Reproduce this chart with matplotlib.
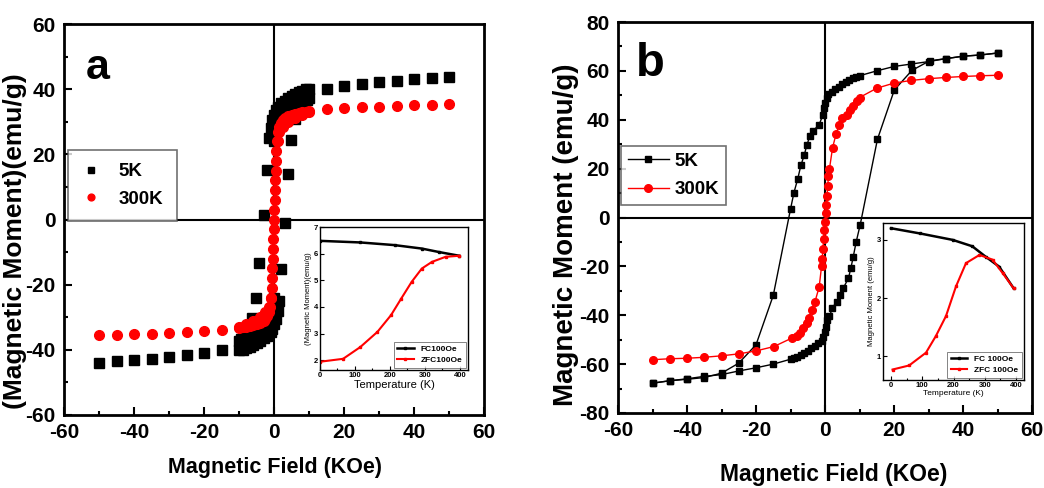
import numpy as np
import matplotlib
matplotlib.use("Agg")
from matplotlib import pyplot as plt
from matplotlib.ticker import MultipleLocator

plt.rcParams['font.family'] = ['Liberation Sans', 'DejaVu Sans']
plt.rcParams['font.weight'] = 'bold'
plt.rcParams['axes.unicode_minus'] = False

# ---- panel a : 5K (squares) ----
a5_sparse_H = [-50, -45, -40, -35, -30, -25, -20, -15, 15, 20, 25, 30, 35, 40, 45, 50]
a5_sparse_M = [-44.0, -43.5, -43.0, -42.7, -42.1, -41.7, -41.1, -40.1,
               39.9, 41.0, 41.7, 42.3, 42.6, 43.0, 43.3, 43.6]
a5_outer_H = [-1.5, -1, -0.5, 0, 0.5, 1, 2, 3, 4, 5, 6, 7, 8, 9, 10]
a5_outer_M = [25, 28, 30.5, 32, 33.5, 34.5, 35.7, 36.5, 37.3, 38, 38.6, 39.1, 39.5, 39.9, 40.2]
a5_inner_H = [0, 0.3, 0.7, 1.5, 2.5, 3.5, 4.5, 5.5, 6.5, 7.5, 8.5, 9.5, 10]
a5_inner_M = [24, 27, 29, 30, 31.5, 32.5, 33.5, 34.3, 35, 35.6, 36.2, 36.8, 37.2]
a5_loose_H = [-2.1, -3.0, 4.0, 4.9, 6.0, 3.0, 2.0, -4.3, -5.2, -6.2]
a5_loose_M = [15.3, 1.3, 14.1, 24.5, 30.7, -1.0, -15.3, -13.5, -24.2, -30.2]

# ---- panel a : 300K (circles) ----
a300_sparse_H = [-50, -45, -40, -35, -30, -25, -20, -15, 15, 20, 25, 30, 35, 40, 45, 50]
a300_sparse_M = [-35.5, -35.3, -35.2, -35.0, -34.8, -34.5, -34.2, -33.8,
                 33.8, 34.1, 34.4, 34.6, 34.8, 35.1, 35.1, 35.6]
a300_up_H = [10, 9, 8, 7, 6, 5, 4, 3, 2.5, 2, 1.5, 1.2]
a300_up_M = [33.3, 33.1, 33, 32.8, 32.5, 32.2, 31.8, 31.2, 30.5, 29.5, 28.5, 27]
a300_up2_H = [1, 1.5, 2.5, 4, 6, 8, 10]
a300_up2_M = [24, 27, 28.5, 30, 31.3, 32.2, 33]
a300_col_H = [0.9, 0.7, 0.6, 0.5, 0.4, 0.3, 0.2, 0.1, 0, -0.1, -0.2, -0.3, -0.4, -0.5, -0.6, -0.7, -0.9]
a300_col_M = [24, 21, 18, 15, 12, 9, 6, 3, 0, -3, -6, -9, -12, -15, -18, -21, -24]
a300_dn_H = [-1.2, -1.5, -2, -2.5, -3, -4, -5, -6, -7, -8, -9, -10]
a300_dn_M = [-27, -28.5, -29.5, -30.5, -31.2, -31.8, -32.2, -32.5, -32.8, -33, -33.1, -33.3]
a300_dn2_H = [-1, -1.5, -2.5, -4, -6, -8, -10]
a300_dn2_M = [-24, -27, -28.5, -30, -31.3, -32.2, -33]

# ---- panel a inset ----
a_T_fc = [0, 115, 213, 291, 340, 398]
a_M_fc = [6.48, 6.42, 6.32, 6.19, 6.06, 5.92]
a_T_zfc = [0, 66, 115, 164, 203, 232, 262, 291, 320, 359, 398]
a_M_zfc = [1.94, 2.05, 2.49, 3.06, 3.69, 4.31, 4.94, 5.44, 5.69, 5.88, 5.92]

# ---- panel b : 5K (line + squares) ----
b5_down_H = [50, 45, 40, 35, 30, 25, 20, 15, 10, 9, 8, 7, 6, 5, 4, 3, 2, 1, 0.5, 0, -0.3, -0.6,
             -1.7, -3.4, -4.4, -5.3, -6, -7, -7.9, -9, -10, -15, -20, -25, -30, -35, -40, -45, -50]
b5_down_M = [67.3, 66.5, 66, 65, 63.8, 62.8, 61.8, 60, 58, 57.5, 57, 56.3, 55.5, 54.5, 53.5, 52.5,
             51.5, 50.5, 49, 47, 45, 42, 38, 35.5, 33.2, 29.5, 25.6, 21.3, 15.8, 10.2, 3.4,
             -31.9, -52.1, -59.6, -63.7, -65.5, -66.2, -66.8, -67.8]
b5_up_H = [-50, -45, -40, -35, -30, -25, -20, -15, -10, -9, -8, -7, -6, -5, -4, -3, -2, -1, -0.5, 0,
           0.3, 0.6, 1.3, 2.1, 3.4, 4.4, 5.3, 6.8, 7.5, 8.2, 9, 10.2, 15.2, 20.1, 25.2, 30.3, 35, 40, 45, 50]
b5_up_M = [-67.8, -66.8, -66, -65, -64.3, -62.8, -61.5, -60, -58, -57.5, -57, -56.3, -55.5, -54.5,
           -53.5, -52.5, -51.5, -50.5, -49, -47, -45, -42, -40.5, -37.1, -34.4, -31.6, -28.9,
           -24.8, -20.7, -16, -10.2, -3, 32, 52.2, 60.2, 64.1, 65, 66, 66.5, 67.3]

# ---- panel b : 300K (line + circles) ----
b300_H = [50, 45, 40, 35, 30, 25, 20, 15, 10, 9.2, 8.2, 7.3, 6.3, 4.8, 4.1, 3.2, 2.2,
          1.3, 1.0, 0.8, 0.6, 0.4, 0.2, 0.0, -0.2, -0.4, -0.6, -0.8, -1.0,
          -1.7, -2.9, -3.9, -4.5, -5.3, -6.3, -7.3, -8.2, -9.7, -14.8, -20, -25, -30, -35, -40, -45, -50]
b300_M = [58.2, 58, 57.7, 57.3, 56.8, 56.1, 55, 52.9, 49.1, 47.5, 45.7, 44, 42, 40.6, 37.9, 34.1, 28.6,
          20, 17, 13, 9, 5, 2, -2, -5, -9, -13, -17, -20,
          -28.5, -34.4, -37.8, -41.2, -43.2, -45.3, -47.3, -48.4, -49.4, -52.8, -54.6, -55.8,
          -56.6, -57.2, -57.6, -57.8, -58.2]

# ---- panel b inset ----
b_T_fc = [0, 93, 197, 260, 303, 346, 392]
b_M_fc = [3.2, 3.11, 3.0, 2.89, 2.71, 2.54, 2.17]
b_T_zfc = [5, 58, 112, 144, 176, 208, 240, 283, 325, 357, 392]
b_M_zfc = [0.77, 0.84, 1.06, 1.35, 1.69, 2.2, 2.6, 2.74, 2.66, 2.43, 2.17]

W, H = 1044, 488


def px_axes(fig, x0, y0, x1, y1):
    # pixel box (top-left origin) -> figure axes
    return fig.add_axes([x0 / W, 1 - y1 / H, (x1 - x0) / W, (y1 - y0) / H])


def style_main(ax, ylim, ymajor):
    ax.set_xlim(-60, 60)
    ax.set_ylim(*ylim)
    ax.xaxis.set_major_locator(MultipleLocator(20))
    ax.xaxis.set_minor_locator(MultipleLocator(10))
    ax.yaxis.set_major_locator(MultipleLocator(ymajor))
    ax.yaxis.set_minor_locator(MultipleLocator(10))
    ax.tick_params(which='both', direction='in', top=False, right=False, width=1.5, labelsize=15)
    ax.tick_params(which='major', length=6, pad=6)
    ax.tick_params(which='minor', length=3)
    for s in ax.spines.values():
        s.set_linewidth(2)
    ax.axhline(0, color='k', lw=1.5, zorder=1)
    ax.axvline(0, color='k', lw=1.5, zorder=1)


def style_inset(ax, xlim, ylim, ylabel, xsize):
    ax.set_xlim(*xlim)
    ax.set_ylim(*ylim)
    ax.xaxis.set_major_locator(MultipleLocator(100))
    ax.xaxis.set_minor_locator(MultipleLocator(50))
    ax.yaxis.set_major_locator(MultipleLocator(1))
    ax.tick_params(which='both', direction='in', top=False, right=False, labelsize=5.5, pad=1.5,
                   width=0.8)
    ax.tick_params(which='major', length=3)
    ax.tick_params(which='minor', length=1.5)
    for s in ax.spines.values():
        s.set_linewidth(1)
    ax.set_xlabel("Temperature (K)", fontsize=xsize, labelpad=1)
    ax.set_ylabel(ylabel, fontsize=5.5, labelpad=1)


def main():
    fig = plt.figure(figsize=(W / 100, H / 100), dpi=100)

    # ---------- panel a ----------
    ax = px_axes(fig, 64, 24, 484, 415)
    style_main(ax, (-60, 60), 20)
    sq = dict(marker='s', color='k', ms=6.5, ls='none', zorder=3)
    ci = dict(marker='o', color='red', ms=7, ls='none', zorder=4)
    ax.plot(a5_sparse_H, a5_sparse_M, label="5K", **sq)
    for h, m in [(a5_outer_H, a5_outer_M), (a5_inner_H, a5_inner_M)]:
        ax.plot(h, m, **sq)
        ax.plot(-np.array(h), -np.array(m), **sq)
    ax.plot(a5_loose_H, a5_loose_M, **sq)
    ax.plot(a300_sparse_H, a300_sparse_M, label="300K", **ci)
    for h, m in [(a300_up_H, a300_up_M), (a300_up2_H, a300_up2_M), (a300_col_H, a300_col_M),
                 (a300_dn_H, a300_dn_M), (a300_dn2_H, a300_dn2_M)]:
        ax.plot(h, m, **ci)
    leg = ax.legend(loc='upper left', bbox_to_anchor=(0.01, 0.678), borderaxespad=0,
                    fancybox=False, edgecolor='0.3', fontsize=13.5, handlelength=1.0,
                    handletextpad=1.0, borderpad=0.7, labelspacing=0.55, markerscale=0.7)
    leg.get_frame().set_linewidth(1.2)
    ax.text(98 / W, 1 - 68 / H, "a", transform=fig.transFigure, fontsize=31,
            ha='center', va='center')
    fig.text(274.5 / W, 1 - 467 / H, "Magnetic Field (KOe)", ha='center', va='center', fontsize=15.5)
    fig.text(15 / W, 1 - 241.5 / H, "(Magnetic Moment)(emu/g)", ha='center', va='center',
             rotation=90, fontsize=19)

    ins = px_axes(fig, 320, 227, 468, 370)
    ins.plot(a_T_fc, a_M_fc, '-', color='k', lw=1.8, marker='s', ms=1.5, label="FC100Oe")
    ins.plot(a_T_zfc, a_M_zfc, '-', color='red', lw=1.5, marker='s', ms=1.5, label="ZFC100Oe")
    style_inset(ins, (0, 423), (1.63, 7), "(Magnetic Moment)(emu/g)", 8)
    l2 = ins.legend(loc='lower right', fontsize=6, fancybox=False, edgecolor='0.3',
                    handlelength=2, borderaxespad=0.3, labelspacing=0.4)
    l2.get_frame().set_linewidth(0.6)

    # ---------- panel b ----------
    bx = px_axes(fig, 618, 22, 1032, 413)
    style_main(bx, (-80, 80), 20)
    bx.plot(b5_down_H, b5_down_M, '-s', color='k', lw=1, ms=5, zorder=3, label="5K")
    bx.plot(b5_up_H, b5_up_M, '-s', color='k', lw=1, ms=5, zorder=3)
    bx.plot(b300_H, b300_M, '-o', color='red', lw=1, ms=5.5, zorder=4, label="300K")
    leg = bx.legend(loc='upper left', bbox_to_anchor=(0.008, 0.682), borderaxespad=0,
                    fancybox=False, edgecolor='0.3', fontsize=13.5, handlelength=2.2,
                    handletextpad=0.3, borderpad=0.35, labelspacing=0.6)
    leg.get_frame().set_linewidth(1.2)
    bx.text(650 / W, 1 - 64 / H, "b", transform=fig.transFigure, fontsize=34,
            ha='center', va='center')
    fig.text(834 / W, 1 - 475 / H, "Magnetic Field (KOe)", ha='center', va='center', fontsize=16.5)
    fig.text(566 / W, 1 - 235 / H, "Magnetic Moment (emu/g)", ha='center', va='center',
             rotation=90, fontsize=20)

    ins = px_axes(fig, 883, 223, 1024, 380)
    ins.plot(b_T_fc, b_M_fc, '-', color='k', lw=1.8, marker='s', ms=1.5, label="FC 100Oe")
    ins.plot(b_T_zfc, b_M_zfc, '-', color='red', lw=1.5, marker='s', ms=1.5, label="ZFC 100Oe")
    style_inset(ins, (-25.6, 425.6), (0.59, 3.29), "Magnetic Moment (emu/g)", 6)
    l2 = ins.legend(loc='lower right', fontsize=6, fancybox=False, edgecolor='0.3',
                    handlelength=2, borderaxespad=0.3, labelspacing=0.4)
    l2.get_frame().set_linewidth(0.6)

    fig.savefig("out.png", dpi=100)
    plt.close(fig)


if __name__ == "__main__":
    main()
